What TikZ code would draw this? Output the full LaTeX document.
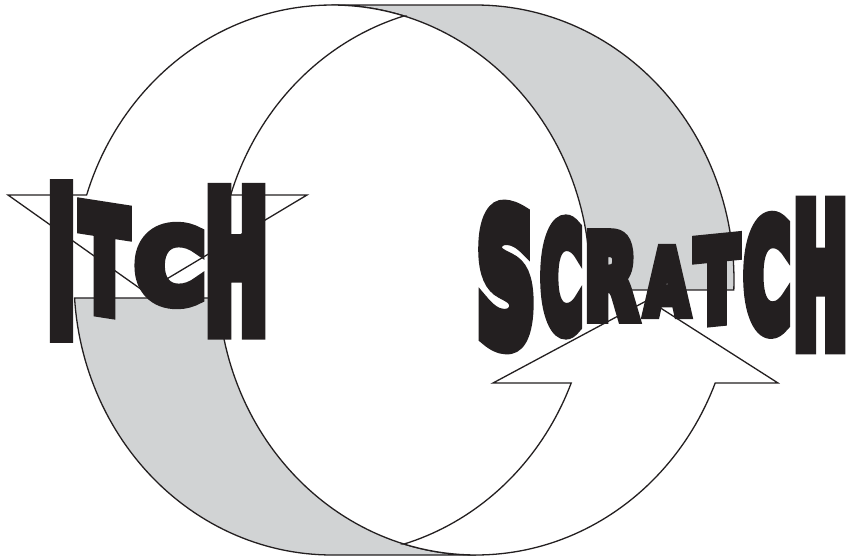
\documentclass[tikz,border=0pt]{standalone}
\usepackage{fontspec}
\usepackage{graphicx}
\IfFontExistsTF{DejaVu Sans Condensed Bold}{\newfontfamily\imp{DejaVu Sans Condensed Bold}[FakeBold=12]}{\newfontfamily\imp{DejaVu Sans Bold}[FakeBold=12]}
\definecolor{ink}{HTML}{231F20}
\definecolor{band}{HTML}{D1D3D4}
\tikzset{
  edge/.style={draw=ink, line width=1.3pt, line join=miter},
  grayband/.style={edge, fill=band},
  arrowbody/.style={edge, fill=white},
  ltr/.style={inner sep=0pt, outer sep=0pt, text=ink, transform shape},
}
\newcommand\EllA{258}
\newcommand\EllB{275}
\newcommand\EllY{280}
\newcommand\EllL{332}
\newcommand\EllR{476}
\newcommand\mkltr[7]{\begin{scope}[shift={(#2,#3)},yslant=#6]\node[ltr] (#1) at (0,0) {\resizebox{#4pt}{#5pt}{\imp #7}};\end{scope}}
\begin{document}
\begin{tikzpicture}[x=1pt,y=-1pt]
\useasboundingbox (0,0) rectangle (847,560);
% upper right gray band
\path[grayband] (\EllL,5) -- (\EllR,5)
  -- plot[domain=-90:2.08,samples=60,variable=\t] ({\EllR+\EllA*cos(\t)},{\EllY+\EllB*sin(\t)})
  -- plot[domain=2.08:-90,samples=60,variable=\t] ({\EllL+\EllA*cos(\t)},{\EllY+\EllB*sin(\t)})
  -- cycle;
% lower left gray band
\path[grayband] plot[domain=90:176.25,samples=60,variable=\t] ({\EllL+\EllA*cos(\t)},{\EllY+\EllB*sin(\t)})
  -- plot[domain=176.25:90,samples=60,variable=\t] ({\EllR+\EllA*cos(\t)},{\EllY+\EllB*sin(\t)})
  -- cycle;
% left arrow (pointing down)
\path[arrowbody] plot[domain=-162:-73.8,samples=60,variable=\t] ({\EllL+\EllA*cos(\t)},{\EllY+\EllB*sin(\t)})
  -- plot[domain=-106.2:-162,samples=40,variable=\t] ({\EllR+\EllA*cos(\t)},{\EllY+\EllB*sin(\t)})
  -- (307,195) -- (145,292) -- (8,195) -- cycle;
% right arrow (pointing up)
\path[arrowbody] plot[domain=73.8:22,samples=40,variable=\t] ({\EllL+\EllA*cos(\t)},{\EllY+\EllB*sin(\t)})
  -- (493,383) -- (648,300) -- (778,383)
  -- plot[domain=22:90,samples=50,variable=\t] ({\EllR+\EllA*cos(\t)},{\EllY+\EllB*sin(\t)})
  -- plot[domain=90:106.2,samples=10,variable=\t] ({\EllR+\EllA*cos(\t)},{\EllY+\EllB*sin(\t)})
  -- cycle;
% ITCH
\mkltr{lI}{61.5}{261}{27.1}{140.3}{0}{I}
\mkltr{lT}{104.5}{259.75}{46.2}{100}{-0.155}{T}
\mkltr{lC}{170}{265.5}{68}{74}{0}{C}
\mkltr{lH}{236.5}{261.25}{61.3}{134.3}{0}{H}
% SCRATCH
\mkltr{sS}{506}{277}{56.3}{131}{-0.04}{S}
\mkltr{sC}{561.5}{277}{40.8}{106}{0}{C}
\mkltr{sR}{610.9}{276}{51.4}{82}{0}{R}
\mkltr{sA}{667}{281.5}{42.7}{64.4}{0}{A}
\mkltr{sT}{717}{280}{42}{80}{0.1}{T}
\mkltr{sCb}{767}{275}{45.6}{108.5}{0.04}{C}
\mkltr{sH}{820.5}{275}{52.7}{136}{0}{H}
\end{tikzpicture}
\end{document}
